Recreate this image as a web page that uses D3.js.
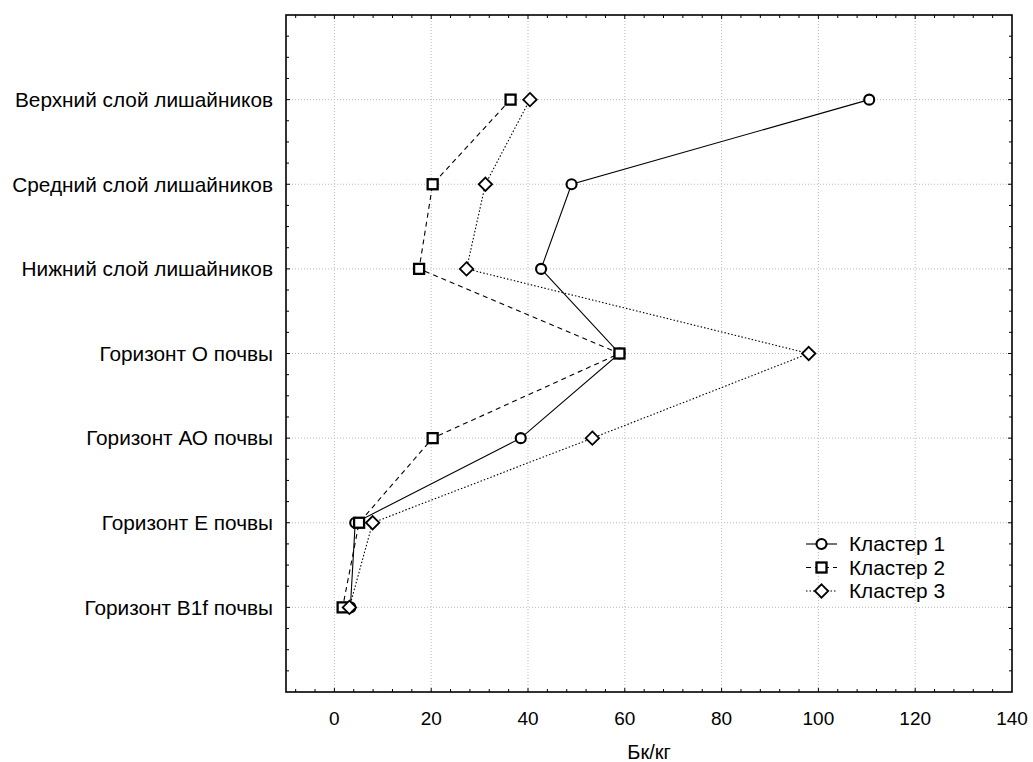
<!DOCTYPE html>
<html>
<head>
<meta charset="utf-8">
<script src="https://cdn.jsdelivr.net/npm/d3@7"></script>
<style>
    body { margin: 0; background: #fff; }
    text { font-family: Arial, "Liberation Sans", sans-serif; fill: #000; }
</style>
</head>
<body>
<svg id="chart" width="1033" height="762"></svg>
<script>
// categories, top to bottom
const categories = [
    "Верхний слой лишайников",
    "Средний слой лишайников",
    "Нижний слой лишайников",
    "Горизонт О почвы",
    "Горизонт АО почвы",
    "Горизонт Е почвы",
    "Горизонт B1f почвы"
];
const cluster1 = [110.5, 49.0, 42.7, 58.9, 38.5, 4.3, 3.3];
const cluster2 = [36.4, 20.3, 17.5, 58.9, 20.3, 5.1, 1.7];
const cluster3 = [40.4, 31.2, 27.3, 98.0, 53.3, 7.9, 3.1];
const seriesNames = ["Кластер 1", "Кластер 2", "Кластер 3"];
const xTicks = [0, 20, 40, 60, 80, 100, 120, 140];
const xTitle = "Бк/кг";

const svg = d3.select("#chart");
const margin = {left: 286, right: 21, top: 15, bottom: 70};
const width = 1033 - margin.left - margin.right;
const height = 762 - margin.top - margin.bottom;

const x = d3.scaleLinear().domain([-10, 140]).range([0, width]);
const y = d3.scaleLinear().domain([0, 8]).range([0, height]);

const g = svg.append("g").attr("transform", `translate(${margin.left},${margin.top})`);

// grid
g.append("g").selectAll("line")
    .data(xTicks.filter(d => d < 140))
    .enter().append("line")
    .attr("x1", d => x(d)).attr("x2", d => x(d))
    .attr("y1", 0).attr("y2", height)
    .attr("stroke", "#bbb").attr("stroke-width", 1).attr("stroke-dasharray", "1,2");
g.append("g").selectAll("line")
    .data(categories)
    .enter().append("line")
    .attr("x1", 0).attr("x2", width)
    .attr("y1", (d, i) => y(i + 1)).attr("y2", (d, i) => y(i + 1))
    .attr("stroke", "#bbb").attr("stroke-width", 1).attr("stroke-dasharray", "1,2");

// minor ticks
const xMinor = d3.range(-8, 140, 4);
const yMinor = d3.range(0.25, 8, 0.25);
const ticksG = g.append("g").attr("stroke", "#000").attr("stroke-width", 1);
xMinor.forEach(v => {
    let len = (v % 20 === 0) ? 4 : 3;
    ticksG.append("line").attr("x1", x(v)).attr("x2", x(v)).attr("y1", height).attr("y2", height - len);
    ticksG.append("line").attr("x1", x(v)).attr("x2", x(v)).attr("y1", 0).attr("y2", len);
});
yMinor.forEach(v => {
    let len = (v % 1 === 0) ? 4 : 3;
    ticksG.append("line").attr("y1", y(v)).attr("y2", y(v)).attr("x1", 0).attr("x2", len);
    ticksG.append("line").attr("y1", y(v)).attr("y2", y(v)).attr("x1", width).attr("x2", width - len);
});

// frame
g.append("rect")
    .attr("x", 0).attr("y", 0).attr("width", width).attr("height", height)
    .attr("fill", "none").attr("stroke", "#000").attr("stroke-width", 1.6);

// x tick labels
g.append("g").selectAll("text")
    .data(xTicks)
    .enter().append("text")
    .attr("x", d => x(d))
    .attr("y", height + 33)
    .attr("text-anchor", "middle")
    .style("font-size", "19px")
    .text(d => d);

g.append("text")
    .attr("x", width / 2).attr("y", height + 67)
    .attr("text-anchor", "middle")
    .style("font-size", "20px")
    .text(xTitle);

// category labels
g.append("g").selectAll("text")
    .data(categories)
    .enter().append("text")
    .attr("x", -13)
    .attr("y", (d, i) => y(i + 1))
    .attr("dy", "0.35em")
    .attr("text-anchor", "end")
    .style("font-size", "20.8px")
    .text(d => d);

// series
const series = [
    {name: seriesNames[0], values: cluster1, dash: null, shape: "circle"},
    {name: seriesNames[1], values: cluster2, dash: "5,4", shape: "square"},
    {name: seriesNames[2], values: cluster3, dash: "1.5,2", shape: "diamond"}
];

function drawMarker(sel, shape, cx, cy) {
    if (shape === "circle") {
        sel.append("circle").attr("cx", cx).attr("cy", cy).attr("r", 5)
            .attr("fill", "#fff").attr("stroke", "#000").attr("stroke-width", 2.1);
    } else if (shape === "square") {
        sel.append("rect").attr("x", cx - 5).attr("y", cy - 5).attr("width", 10).attr("height", 10)
            .attr("fill", "#fff").attr("stroke", "#000").attr("stroke-width", 2.3);
    } else {
        let r = 6.7;
        sel.append("path").attr("d", `M${cx},${cy - r}L${cx + r},${cy}L${cx},${cy + r}L${cx - r},${cy}Z`)
            .attr("fill", "#fff").attr("stroke", "#000").attr("stroke-width", 1.8);
    }
}

const line = d3.line()
    .x(d => x(d))
    .y((d, i) => y(i + 1));

series.forEach(s => {
    let sg = g.append("g");
    sg.append("path")
        .attr("d", line(s.values))
        .attr("fill", "none")
        .attr("stroke", "#000")
        .attr("stroke-width", 1.1)
        .attr("stroke-dasharray", s.dash);
    s.values.forEach((v, i) => drawMarker(sg, s.shape, x(v), y(i + 1)));
});

// legend
const legend = svg.append("g").attr("transform", "translate(806,544)");
series.forEach((s, i) => {
    let ly = i * 23.5;
    legend.append("line")
        .attr("x1", 0).attr("x2", 31).attr("y1", ly).attr("y2", ly)
        .attr("stroke", "#000").attr("stroke-width", 1.1)
        .attr("stroke-dasharray", s.dash);
    drawMarker(legend, s.shape, 15.5, ly);
    legend.append("text")
        .attr("x", 43).attr("y", ly).attr("dy", "0.35em")
        .style("font-size", "20.8px")
        .text(s.name);
});
</script>
</body>
</html>
